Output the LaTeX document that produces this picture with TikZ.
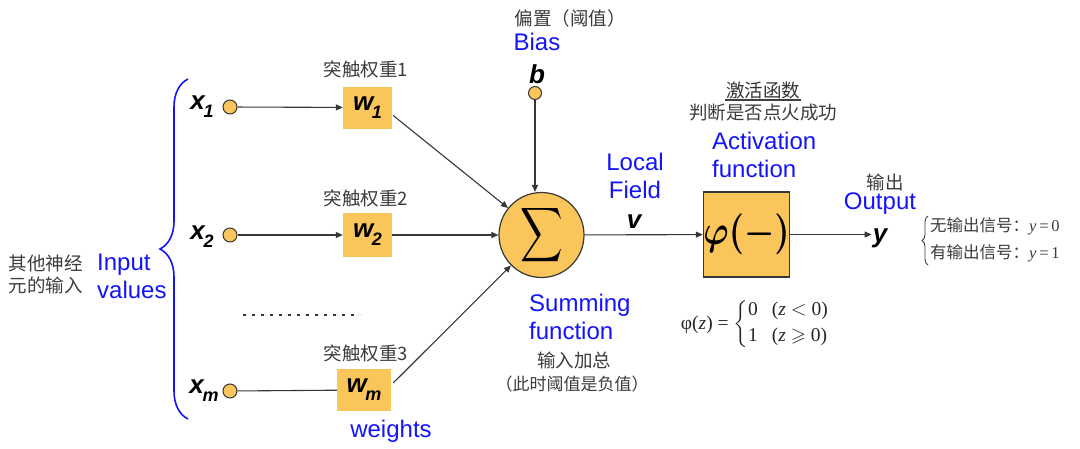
\documentclass[tikz,border=0pt]{standalone}
\usepackage{amssymb}
\usepackage{graphicx}
\usepackage{fontspec}
\setmainfont{Liberation Sans}
\newfontfamily\cjk{Noto Sans CJK SC}
\newfontfamily\serifx{Liberation Serif}
\usetikzlibrary{arrows.meta,decorations.pathreplacing}
\definecolor{orng}{RGB}{250,198,92}
\definecolor{dk}{RGB}{55,55,55}
\definecolor{txtgray}{RGB}{60,60,60}
\definecolor{bl}{RGB}{20,20,250}
\newcommand\vsub[2]{#1\kern-0.05em\raisebox{-0.3em}{\fontsize{18}{18}\selectfont #2}}
\tikzset{
  dotc/.style={circle,minimum size=14pt,inner sep=0pt,fill=orng,draw=dk,line width=1pt},
  wbox/.style={rectangle,minimum width=49pt,minimum height=42pt,inner sep=0pt,fill=orng,font=\fontsize{26}{26}\selectfont\bfseries\itshape},
  var/.style={inner sep=1pt,font=\fontsize{26}{26}\selectfont\bfseries\itshape},
  cn/.style={inner sep=1pt,text=txtgray,font=\cjk\fontsize{18.5}{22}\selectfont},
  bt/.style={inner sep=1pt,text=bl,font=\fontsize{24}{28}\selectfont,align=center},
  arr/.style={draw=dk,line width=1.1pt,-{Triangle[length=7pt,width=6pt]}},
  ln/.style={draw=dk,line width=1.1pt}
}
\begin{document}
\begin{tikzpicture}[x=1pt,y=-1pt]
\useasboundingbox[fill=white] (0,0) rectangle (1080,448);
% inputs
\node[var] (x1) at (202,107) {\vsub{x}{1}};
\node[var] (x2) at (202,237) {\vsub{x}{2}};
\node[var] (xm) at (204,391) {\vsub{x}{m}};
\node[dotc] (x1c) at (230,107) {};
\node[dotc] (x2c) at (230,235) {};
\node[dotc] (xmc) at (230,391) {};
% weights
\node[wbox] (w1) at (367.5,107.5) {\vsub{w}{1}};
\node[wbox,minimum height=44pt] (w2) at (367.5,235) {\vsub{w}{2}};
\node[wbox,minimum width=54pt] (wm) at (364,390) {\vsub{w}{m}};
\node[cn] (t1) at (366,69) {突触权重1};
\node[cn] (t2) at (366,198) {突触权重2};
\node[cn] (t3) at (366,353) {突触权重3};
\node[bt] (wt) at (391,431) {weights};
\draw[line width=2.6pt,dash pattern=on 2.6pt off 6.4pt,draw=dk] (243,315) -- (360,315);
% left side
\draw[bl,line width=1.6pt,decorate,decoration={brace,amplitude=28pt,aspect=0.5}] (188,419) -- (188,79);
\node[bt,align=left,anchor=west] (iv) at (96,276) {Input\\values};
\node[cn,align=left,font=\cjk\fontsize{18.5}{22}\selectfont] (oth) at (46,274) {其他神经\\元的输入};
% summation
\node[circle,minimum size=85pt,inner sep=0pt,fill=orng,draw=dk,line width=1.2pt] (sum) at (541.5,235) {\scalebox{2.95}[3.8]{$\displaystyle\sum$}};
\node[dotc,minimum size=13pt] (bc) at (535,93) {};
\node[var] (b) at (537,74) {b};
\node[bt] (bias) at (537,42) {Bias};
\node[cn] (pz) at (570,18) {偏置（阈值）};
\node[bt,align=left,anchor=west] (sf) at (528,317) {Summing\\function};
\node[cn] (sr) at (574,360) {输入加总};
\node[cn,font=\cjk\fontsize{17}{20}\selectfont] (sy) at (572,384) {（此时阈值是负值）};
% local field
\node[bt] (lf) at (635,176) {Local\\Field};
\node[var] (v) at (634,222) {v};
% activation
\node[rectangle,minimum width=85pt,minimum height=85pt,inner sep=0pt,fill=orng,draw=dk,line width=1.2pt] (phi) at (746.5,234.5) {\raisebox{5pt}{\scalebox{3.4}[4.1]{\boldmath$\varphi(-)$}}};
\node[cn,text=black!80] (jh) at (763,90) {激活函数};
\draw[black!75,line width=1.3pt] ([yshift=-3pt]jh.base west) -- ([yshift=-3pt]jh.base east);
\node[cn] (pd) at (763,113) {判断是否点火成功};
\node[bt,align=left,anchor=west] (af) at (711,155) {Activation\\function};
\node[var] (y) at (880,238) {y};
\node[cn] (sc) at (885,182) {输出};
\node[bt] (out) at (880,204) {Output};
% output cases
\draw[txtgray,line width=0.9pt,decorate,decoration={brace,amplitude=6pt}] (928,265) -- (928,216);
\node[cn,anchor=west,font=\cjk\fontsize{16.5}{19}\selectfont] (c0) at (929,226) {无输出信号：{\serifx\itshape y}\,{\serifx=\,0}};
\node[cn,anchor=west,font=\cjk\fontsize{16.5}{19}\selectfont] (c1) at (929,253) {有输出信号：{\serifx\itshape y}\,{\serifx=\,1}};
% equation
\node[inner sep=0pt,text=black!85,font=\serifx\fontsize{19.5}{22}\selectfont] (eq) at (755,324) {φ(\textit{z}) = $\left\{\begin{tabular}{@{}l@{\hspace{14pt}}l@{}}0 & (\textit{z} $<$ 0)\\[4pt] 1 & (\textit{z} $\geqslant$ 0)\end{tabular}\right.$};
% connectors
\draw[arr] (x1c) -- (w1);
\draw[arr] (x2c) -- (w2);
\draw[ln] (xmc) -- (wm);
\draw[arr] ([shift={(1,8)}]w1.east) -- (sum);
\draw[arr] (w2) -- (sum);
\draw[arr] ([shift={(2,-7)}]wm.east) -- (sum);
\draw[arr] (bc) -- (sum.north -| bc);
\draw[arr] (sum) -- (phi);
\draw[arr] (phi) -- (phi -| y.west);
\end{tikzpicture}
\end{document}
